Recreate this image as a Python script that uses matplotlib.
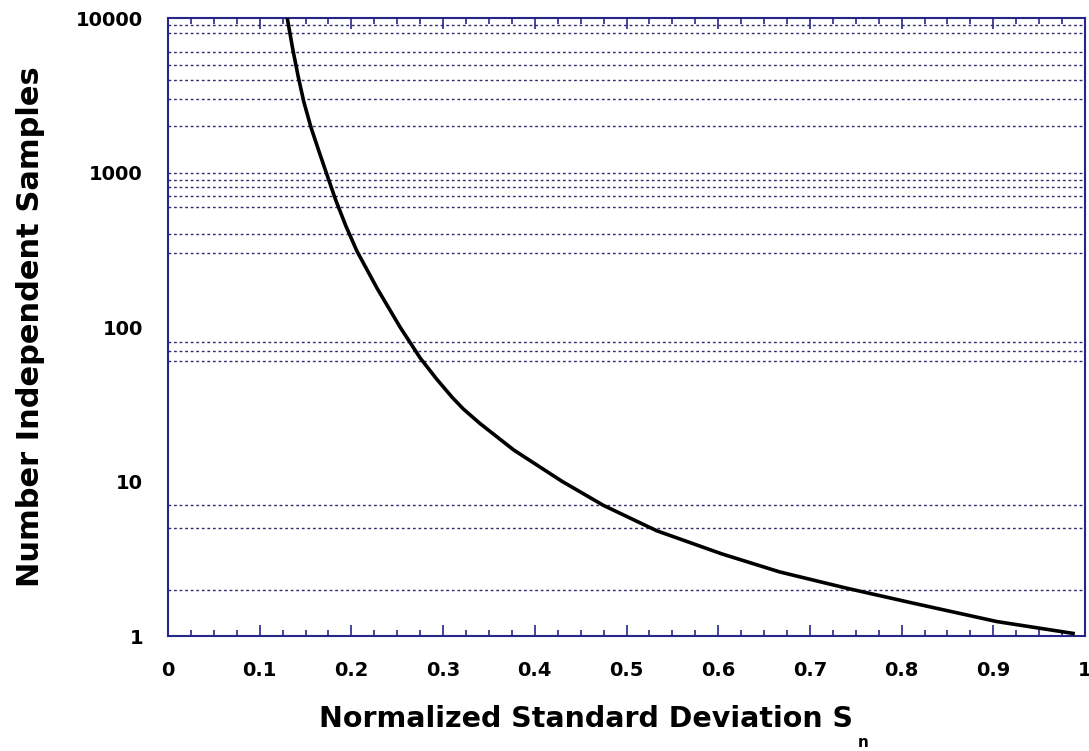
import matplotlib.pyplot as plt
from matplotlib.ticker import FixedLocator, MultipleLocator, NullLocator

# curve: normalized std deviation vs number of samples
s_n = [0.130, 0.136, 0.142, 0.148, 0.156, 0.165, 0.173, 0.183, 0.194, 0.206,
       0.228, 0.253, 0.275, 0.293, 0.310, 0.322, 0.340, 0.377, 0.430, 0.475,
       0.533, 0.604, 0.667, 0.740, 0.813, 0.904, 0.987]
n_samples = [10000, 6300, 4170, 2880, 1950, 1350, 980, 660, 450, 310,
             178, 100, 63, 46, 35, 29.5, 23.8, 16, 10, 7.0,
             4.8, 3.4, 2.6, 2.04, 1.63, 1.24, 1.04]

# horizontal dotted lines seen in the chart
grid_levels = [2, 5, 7, 60, 70, 80, 300, 400, 600, 700, 800, 900, 1000,
               2000, 3000, 4000, 5000, 6000, 8000, 9000]

x_ticks = [0, 0.1, 0.2, 0.3, 0.4, 0.5, 0.6, 0.7, 0.8, 0.9, 1]
x_labels = ['0', '0.1', '0.2', '0.3', '0.4', '0.5', '0.6', '0.7', '0.8', '0.9', '1']
y_ticks = [1, 10, 100, 1000, 10000]
y_labels = ['1', '10', '100', '1000', '10000']

plt.rcParams['font.family'] = ['DejaVu Sans']
navy = '#26268a'

fig = plt.figure(figsize=(10.89, 7.51), dpi=100)
ax = fig.add_axes([0.1543, 0.1531, 0.8420, 0.8229])

for lvl in grid_levels:
    ax.axhline(lvl, color='#2e2e6e', lw=1.0, ls=(0, (2, 2)), zorder=1)

ax.plot(s_n, n_samples, color='black', lw=2.6, zorder=3)

ax.set_yscale('log')
ax.set_xlim(0, 1)
ax.set_ylim(1, 10000)

ax.xaxis.set_major_locator(FixedLocator(x_ticks))
ax.xaxis.set_minor_locator(MultipleLocator(0.025))
ax.set_xticklabels(x_labels)
ax.yaxis.set_major_locator(FixedLocator(y_ticks))
ax.yaxis.set_minor_locator(NullLocator())
ax.set_yticklabels(y_labels)

ax.tick_params(axis='x', which='major', direction='in', length=8, width=1.2,
               color=navy, top=True, pad=18, labelsize=14)
ax.tick_params(axis='x', which='minor', direction='in', length=4, width=1.2,
               color=navy, top=True)
ax.tick_params(axis='y', which='major', length=0, pad=18, labelsize=14)
for lbl in ax.get_xticklabels() + ax.get_yticklabels():
    lbl.set_fontweight('bold')

for sp in ax.spines.values():
    sp.set_color(navy)
    sp.set_linewidth(1.5)

ax.set_xlabel('Normalized Standard Deviation S', fontsize=20.5, fontweight='bold',
              labelpad=18, x=0.456)
ax.set_ylabel('Number Independent Samples', fontsize=22, fontweight='bold',
              labelpad=22)
fig.text(0.788, 0.005, 'n', fontsize=11, fontweight='bold')

fig.savefig('out.png', dpi=100)
